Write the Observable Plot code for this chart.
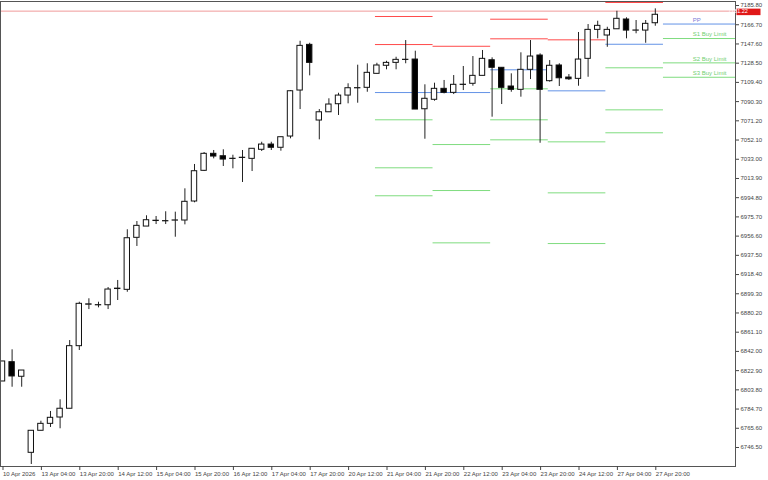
<!DOCTYPE html>
<html><head><meta charset="utf-8">
<script src="https://cdn.jsdelivr.net/npm/d3@7"></script>
<script src="https://cdn.jsdelivr.net/npm/@observablehq/plot@0.6"></script>
<style>body{margin:0;background:#fff}</style>
</head><body><div id="chart"></div>
<script>
// H4 bars, index 0 = 10 Apr 2026 12:00
const barOpen  = [6813.1,6832.3,6817.8,6742.2,6764.1,6771.0,6777.3,6786.0,6848.2,6889.4,6888.8,6888.9,6905.0,6904.2,6955.9,6967.1,6972.6,6972.5,6973.0,6973.1,6992.0,7022.5,7039.4,7037.0,7034.3,7035.5,7034.4,7043.4,7048.6,7045.4,7056.6,7102.3,7147.7,7072.5,7080.7,7088.7,7097.3,7104.5,7105.0,7118.9,7126.9,7129.8,7132.7,7133.1,7083.7,7093.1,7104.0,7100.0,7108.1,7109.0,7116.9,7132.4,7124.9,7106.3,7103.0,7122.9,7137.1,7111.6,7127.2,7115.2,7113.9,7133.8,7162.6,7157.0,7163.2,7172.9,7161.8,7161.9,7169.2];
const barHigh  = [6833.0,6844.6,6824.0,6764.1,6773.6,6783.3,6794.9,6853.8,6891.9,6895.3,6891.9,6906.5,6913.5,6963.9,6972.1,6977.8,6977.1,6981.8,6981.4,7004.6,7028.8,7040.7,7042.7,7043.4,7038.0,7042.7,7044.4,7050.9,7050.9,7055.9,7102.3,7151.3,7149.3,7083.4,7094.1,7099.6,7109.0,7127.5,7128.9,7129.4,7131.4,7135.4,7152.0,7141.4,7108.0,7109.6,7112.3,7117.2,7126.2,7136.1,7142.1,7134.8,7124.9,7118.9,7139.8,7152.0,7138.8,7132.1,7128.9,7118.2,7160.0,7167.9,7171.2,7165.2,7181.1,7174.6,7171.9,7171.9,7183.5];
const barLow   = [6813.1,6807.4,6807.4,6730.6,6764.1,6767.4,6766.1,6786.0,6843.9,6884.6,6886.3,6884.6,6893.6,6901.8,6947.3,6967.1,6969.1,6969.1,6956.5,6968.8,6990.7,7021.8,7034.4,7026.8,7024.5,7010.9,7021.8,7041.7,7042.7,7042.0,7054.3,7083.4,7116.9,7053.3,7080.7,7077.5,7089.1,7089.7,7100.6,7118.9,7122.9,7122.9,7128.9,7083.4,7053.9,7091.7,7099.0,7098.3,7102.3,7106.6,7116.9,7075.8,7088.4,7100.6,7095.7,7113.2,7049.9,7110.6,7106.3,7112.3,7106.6,7115.5,7153.7,7145.3,7163.2,7153.7,7158.7,7149.3,7166.2];
const barClose = [6833.0,6818.1,6824.0,6764.1,6771.0,6777.0,6786.0,6848.2,6890.3,6889.8,6889.0,6904.5,6905.4,6955.5,6967.8,6973.4,6972.9,6972.3,6973.2,6991.7,7022.1,7039.4,7036.7,7033.7,7034.5,7035.3,7044.4,7048.6,7045.4,7055.9,7101.6,7146.7,7129.8,7080.7,7088.4,7097.3,7104.6,7104.7,7119.9,7127.2,7129.8,7132.8,7132.9,7083.4,7094.1,7104.0,7100.0,7108.0,7107.9,7116.9,7133.8,7124.9,7105.0,7103.0,7122.9,7136.1,7103.0,7126.9,7114.5,7113.5,7133.1,7162.6,7166.6,7162.6,7173.6,7161.9,7162.0,7168.6,7177.6];

const xTickIndex  = [0,4,8,12,16,20,24,28,32,36,40,44,48,52,56,60,64,68];
const xTickLabels = ["10 Apr 2026","13 Apr 04:00","13 Apr 20:00","14 Apr 12:00","15 Apr 04:00","15 Apr 20:00","16 Apr 12:00","17 Apr 04:00","17 Apr 20:00","20 Apr 12:00","21 Apr 04:00","21 Apr 20:00","22 Apr 12:00","23 Apr 04:00","23 Apr 20:00","24 Apr 12:00","27 Apr 04:00","27 Apr 20:00"];
const yTicks = [7185.80,7166.70,7147.60,7128.50,7109.40,7090.30,7071.20,7052.10,7033.00,7013.90,6994.80,6975.70,6956.60,6937.50,6918.40,6899.30,6880.20,6861.10,6842.00,6822.90,6803.80,6784.70,6765.60,6746.50];

// daily classic pivots (day start bar index)
const pivotDays  = ["21 Apr","22 Apr","23 Apr","24 Apr","27 Apr","28 Apr"];
const pivotStart = [39,45,51,57,63,69];
const pivotR2 = [7175.9,null,7173.2,null,null,null];
const pivotR1 = [7148.0,7146.3,7153.7,7152.7,7189.8,null];
const pivotPP = [7100.3,7100.3,7122.9,7102.0,7148.3,7168.4];
const pivotS1 = [7073.2,7048.6,7104.0,7051.3,7124.9,7154.0];
const pivotS2 = [7025.5,7002.9,7073.2,7000.6,7083.1,7129.8];
const pivotS3 = [6997.7,6950.9,7053.3,6950.2,7060.3,7115.5];
const lastDayLabels = {PP:"PP", S1:"S1 Buy Limit", S2:"S2 Buy Limit", S3:"S3 Buy Limit"};

const currentPrice = 7181.22;

const xDomain = [-0.2083, 76.354];
const yDomain = [6728.6, 7190.8];

const bars = barOpen.map((o, i) => ({i, o, h: barHigh[i], l: barLow[i], c: barClose[i]}));

const levelColor = {R2:"#ff4a4a", R1:"#ff4a4a", PP:"#6392e6", S1:"#7fdc7f", S2:"#7fdc7f", S3:"#7fdc7f"};
const levelArrays = {R2: pivotR2, R1: pivotR1, PP: pivotPP, S1: pivotS1, S2: pivotS2, S3: pivotS3};
const pivotRows = [];
pivotDays.forEach((day, k) => {
  const x1 = pivotStart[k] - 0.15;
  const x2 = k + 1 < pivotStart.length ? pivotStart[k + 1] - 0.15 : xDomain[1];
  for (const [name, arr] of Object.entries(levelArrays)) {
    if (arr[k] != null) pivotRows.push({day, name, value: arr[k], x1, x2, start: pivotStart[k], last: k === pivotDays.length - 1});
  }
});
const labelRows = pivotRows.filter(d => d.last && lastDayLabels[d.name]);

const xLabelMap = new Map(xTickIndex.map((t, k) => [t, xTickLabels[k]]));

const svg = Plot.plot({
  width: 768, height: 480,
  marginTop: 1, marginRight: 33, marginBottom: 14, marginLeft: 0,
  style: {background: "#fff", fontFamily: "'Liberation Sans', Arial, sans-serif", fontSize: "6px", color: "#333"},
  x: {type: "linear", domain: xDomain},
  y: {domain: yDomain},
  color: {type: "identity"},
  marks: [
    Plot.ruleY([currentPrice], {stroke: "#f09a9a", strokeWidth: 1}),
    Plot.ruleY(pivotRows, {y: "value", x1: "x1", x2: "x2", stroke: d => levelColor[d.name], strokeWidth: 1}),
    Plot.text(labelRows, {x: d => d.start + 3, y: "value", text: d => lastDayLabels[d.name], dy: -4, dx: -1, textAnchor: "start", fontSize: 6,
      fill: d => d.name === "PP" ? "#7a7ad6" : "#6fcf6f"}),
    Plot.ruleX(bars, {x: "i", y1: "l", y2: "h", stroke: "#222", strokeWidth: 1}),
    Plot.rect(bars, {x1: d => d.i - 0.28, x2: d => d.i + 0.28, y1: "o", y2: "c",
      fill: d => d.c >= d.o ? "#ffffff" : "#000000", stroke: "#111", strokeWidth: 1}),
    Plot.frame({stroke: "#555"}),
    Plot.axisX(xTickIndex, {anchor: "bottom", tickSize: 4, tickPadding: 1, tickFormat: d => xLabelMap.get(d), textAnchor: "start", dx: 0.5, fontSize: 6, color: "#444"}),
    Plot.axisY(yTicks, {anchor: "right", tickSize: 3, tickPadding: 2, tickFormat: d => d.toFixed(2), dy: -1, fontSize: 6, color: "#444"})
  ]
});

// current price tag on the price axis
const ys = svg.scale("y"), xs = svg.scale("x");
const py = ys.apply(currentPrice), px = xs.apply(xDomain[1]);
const g = d3.select(svg).append("g");
g.append("rect").attr("x", px + 1.5).attr("y", py - 2).attr("width", 24).attr("height", 6.5).attr("fill", "#e01818");
g.append("text").attr("x", px + 3).attr("y", py + 1.3).attr("dominant-baseline", "middle")
  .attr("fill", "#fff").attr("font-size", 5.5).attr("font-family", "'Liberation Sans', Arial, sans-serif")
  .text(currentPrice.toFixed(2));

document.getElementById("chart").appendChild(svg);
</script>
</body></html>
